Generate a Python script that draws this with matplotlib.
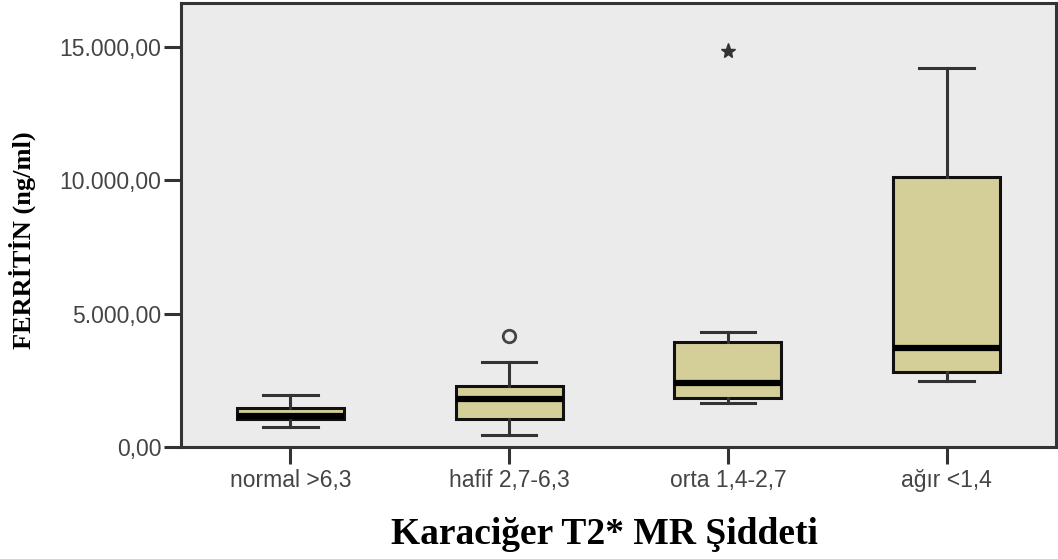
import matplotlib
matplotlib.use("Agg")
import matplotlib.pyplot as plt
from matplotlib.ticker import FuncFormatter

categories = ["normal >6,3", "hafif 2,7-6,3", "orta 1,4-2,7", "ağır <1,4"]
whis_low = [740, 450, 1640, 2475]
q1 = [1050, 1050, 1825, 2800]
median = [1180, 1800, 2390, 3700]
q3 = [1460, 2290, 3950, 10140]
whis_high = [1950, 3175, 4300, 14200]
outliers_circle = [[], [4160], [], []]
outliers_star = [[], [], [14850], []]
yticks = [0, 5000, 10000, 15000]

fig = plt.figure(figsize=(10.58, 5.59), dpi=100)
ax = fig.add_axes([181/1058, 1-447/559, (1056-181)/1058, (447-3)/559])
ax.set_facecolor("#EBEBEB")

stats = []
for i in range(len(categories)):
    stats.append(dict(med=median[i], q1=q1[i], q3=q3[i],
                      whislo=whis_low[i], whishi=whis_high[i], fliers=[]))

ax.bxp(stats, positions=range(len(categories)), widths=0.49,
       patch_artist=True, showfliers=False,
       boxprops=dict(facecolor="#D4CF98", edgecolor="#111111", linewidth=2.2),
       medianprops=dict(color="black", linewidth=4.5, solid_capstyle="butt"),
       whiskerprops=dict(color="#333333", linewidth=2.2),
       capprops=dict(color="#333333", linewidth=2.2),
       capwidths=0.25)

for i in range(len(categories)):
    if outliers_circle[i]:
        ax.plot([i]*len(outliers_circle[i]), outliers_circle[i], 'o',
                mfc='none', mec='#444444', mew=2, ms=9)
    if outliers_star[i]:
        ax.plot([i]*len(outliers_star[i]), outliers_star[i], '*',
                color='#333333', ms=11)

ax.set_xlim(-0.5, len(categories)-0.5)
ax.set_ylim(0, 16650)
ax.set_yticks(yticks)
def fmt(v, pos):
    s = f"{v:,.2f}"
    return s.replace(",", "X").replace(".", ",").replace("X", ".")
ax.yaxis.set_major_formatter(FuncFormatter(fmt))
ax.set_xticks(range(len(categories)))
ax.set_xticklabels(categories)

for sp in ax.spines.values():
    sp.set_color("#333333")
    sp.set_linewidth(2.2)

ax.tick_params(axis='both', colors="#333333", width=2.2, length=12,
               labelcolor="#444444", labelsize=16.5)
ax.tick_params(axis='y', pad=2)
ax.tick_params(axis='x', pad=4)
for lab in ax.get_xticklabels() + ax.get_yticklabels():
    lab.set_family("Liberation Sans")

fig.text(0.5*(390+818)/1058, 1-535/559, "Karaciğer T2* MR Şiddeti",
         family="Liberation Serif", weight="bold", fontsize=27,
         ha="center", va="center", color="black")
fig.text(22/1058, 1-240/559, "FERRİTİN (ng/ml)", rotation=90,
         family="Liberation Serif", weight="bold", fontsize=19,
         ha="center", va="center", color="black")

fig.savefig("out.png", dpi=100)
